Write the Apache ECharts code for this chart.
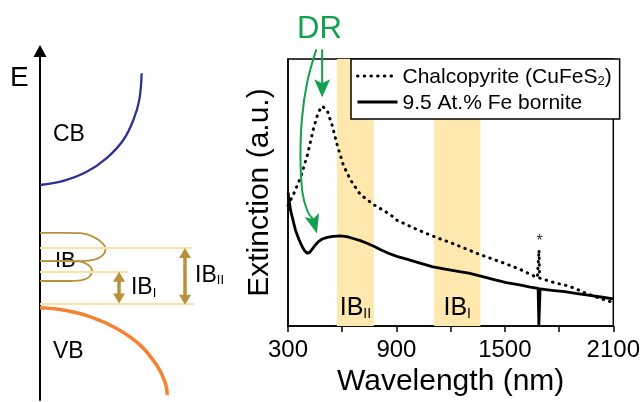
<!DOCTYPE html>
<html><head><meta charset="utf-8">
<script src="https://cdn.jsdelivr.net/npm/echarts@6/dist/echarts.min.js"></script>
<style>html,body{margin:0;padding:0;background:#fff}#c{width:643px;height:402px}</style>
</head><body><div id="c"></div><script>
const FONT = 'Liberation Sans, Arial, Helvetica, sans-serif';
const GREEN = '#12A04C', GOLD = '#B8923A', PALE = '#FCE3A0', BAND = '#FEE8AE';

// ---------- right panel: extinction spectra ----------
const wavelengthTickLabels = [300, 900, 1500, 2100];
const chalcopyriteName = 'Chalcopyrite (CuFeS2)';
const borniteName = '9.5 At.% Fe bornite';
const chalcopyrite = [[300,45.2],[330,49.3],[369,55.5],[407,64],[441,73.9],[468,80.1],[490,82.4],[518,80.5],[545,75],[573,67.6],[606,60.3],[645,54.8],[700,49.3],[771,45.6],[865,41.8],[904,39.6],[1000,36.6],[1069,34.6],[1140,32.7],[1212,30.9],[1290,28.8],[1361,26.8],[1440,24.9],[1510,23.2],[1582,21.3],[1637,19.5],[1680,18.2],[1686,18.6],[1689,28.5],[1692,18.0],[1700,17.4],[1776,16.2],[1831,15.4],[1886,14.2],[1941,12.5],[2013,10.7],[2100,8.8]];
const bornite = [[300,50],[314,43.4],[341,36],[360,32.5],[378,29.8],[392,28.2],[406,27.3],[420,27.6],[433,28.7],[450,30.3],[468,31.6],[490,32.6],[516,33.2],[550,33.6],[590,33.8],[625,33.5],[661,32.8],[700,32.0],[737,31],[775,29.9],[810,28.7],[856,27.3],[902,26.1],[957,25.1],[1030,23.6],[1102,22.2],[1170,21.3],[1233,20.6],[1300,19.8],[1361,18.8],[1430,17.6],[1508,16.3],[1582,15.4],[1640,14.6],[1684,14.1],[1688,0.3],[1691,0.3],[1695,13.9],[1760,13.4],[1831,12.9],[1900,12.2],[1980,11.4],[2040,10.8],[2100,10.2]];
const bandIBII = [571, 775];
const bandIBI = [1108, 1365];
const asteriskPoint = [1692, 31.6];
const drStraightArrow = [[489, 103.6], [489, 85.7]];
const drCurvedArrow = [[457,103.6],[406,91.2],[377,77.6],[369,62.9],[380,50],[408,43],[438,40.1]];
const drCurvedTip = [460, 34.7];

// ---------- left panel: band diagram (schematic k, E units) ----------
const cbCurve = [[0,6.16],[1.37,6.28],[2.75,6.54],[3.92,6.93],[4.90,7.45],[5.49,8.02],[5.84,8.60],[5.98,9.36]];
const vbCurve = [[0,2.645],[1.37,2.58],[2.94,2.39],[4.51,2.05],[5.88,1.58],[6.86,1.00],[7.35,0.52],[7.49,0.14]];
const ibUpperLobe = [[0,4.79],[1.5,4.79],[2.4,4.78],[3.2,4.66],[3.7,4.48],[3.85,4.33],[3.7,4.15],[3.2,4.02],[2.4,3.98],[0,3.98]];
const ibLowerLobe = [[0,3.98],[1.5,3.98],[2.3,3.97],[2.8,3.88],[3.05,3.72],[2.9,3.53],[2.4,3.43],[1.5,3.41],[0,3.41]];
const levelLines = [[4.35, 8.98], [3.68, 5.18], [2.75, 9.06]]; // [E, right end k]
const ibIArrow = [4.65, 3.53, 2.91];   // [k, E top, E bottom]
const ibIIArrow = [8.53, 4.21, 2.87];
const bandLabels = [
  {name:'E', value:[-1.76, 9.23], size:28},
  {name:'CB', value:[0.76, 7.59], size:23},
  {name:'VB', value:[0.76, 1.38], size:23},
  {name:'IB', value:[0.88, 3.98], size:22},
  {name:'{b|IB}{s|I}', value:[5.35, 3.25], size:23},
  {name:'{b|IB}{s|II}', value:[9.12, 3.62], size:23}
];

const subRich = (big, small) => ({
  b:{fontSize:big, lineHeight:big+3, verticalAlign:'bottom', fontFamily:FONT, color:'#000'},
  s:{fontSize:small, lineHeight:10, verticalAlign:'bottom', fontFamily:FONT, color:'#000'}
});

const option = {
  animation:false,
  backgroundColor:'#fff',
  title:{text:'DR', left:297, top:14, padding:0, textStyle:{color:GREEN, fontSize:31, fontWeight:'normal', fontFamily:FONT}},
  legend:{
    data:[chalcopyriteName, borniteName],
    orient:'vertical', left:351, top:59,
    padding:[8,8,5,5], itemGap:5, itemWidth:40, itemHeight:14,
    backgroundColor:'#fff', borderColor:'#000', borderWidth:1.5, borderRadius:0,
    lineStyle:{width:'inherit'},
    itemStyle:{opacity:0, borderWidth:0},
    selectedMode:false,
    formatter: n => n === chalcopyriteName ? '{m|Chalcopyrite (CuFeS}{s|2}{m|)}' : '{m|' + n + '}',
    textStyle:{fontSize:21, color:'#000', fontFamily:FONT,
      rich:{m:{fontSize:21, lineHeight:24, verticalAlign:'bottom', fontFamily:FONT, color:'#000'},
            s:{fontSize:13, lineHeight:10, verticalAlign:'bottom', fontFamily:FONT, color:'#000'}}}
  },
  grid:[
    {left:288, top:59, right:29, bottom:71, show:true, borderColor:'#000', borderWidth:1.5, backgroundColor:'transparent'},
    {left:40, top:51, width:170, height:349}
  ],
  xAxis:[
    {type:'value', gridIndex:0, min:300, max:2100, interval:300,
     name:'Wavelength (nm)', nameLocation:'middle', nameGap:39,
     nameTextStyle:{fontSize:30, color:'#000', fontFamily:FONT},
     axisLine:{lineStyle:{color:'#000', width:1.5}},
     axisTick:{show:true, length:6, lineStyle:{color:'#000', width:1.5}},
     axisLabel:{fontSize:24, color:'#000', fontFamily:FONT, margin:12,
       formatter: v => wavelengthTickLabels.includes(v) ? String(v) : ''},
     splitLine:{show:false}},
    {type:'value', gridIndex:1, min:0, max:10, show:false}
  ],
  yAxis:[
    {type:'value', gridIndex:0, min:0, max:100,
     name:'Extinction (a.u.)', nameLocation:'middle', nameGap:13,
     nameTextStyle:{fontSize:30, color:'#000', fontFamily:FONT},
     axisLine:{lineStyle:{color:'#000', width:1.5}},
     axisTick:{show:false}, axisLabel:{show:false}, splitLine:{show:false}},
    {type:'value', gridIndex:1, min:0, max:10,
     axisLine:{show:true, symbol:['none','triangle'], symbolSize:[13,12], lineStyle:{color:'#000', width:2}},
     axisTick:{show:false}, axisLabel:{show:false}, splitLine:{show:false}}
  ],
  series:[
    {name:chalcopyriteName, type:'line', xAxisIndex:0, yAxisIndex:0, data:chalcopyrite,
     symbol:'none', smooth:false, z:3,
     lineStyle:{color:'#000', width:3, type:[0.5,6.2], cap:'round'},
     itemStyle:{color:'#000'}},
    {name:borniteName, type:'line', xAxisIndex:0, yAxisIndex:0, data:bornite,
     symbol:'none', smooth:false, z:4,
     lineStyle:{color:'#000', width:2.8, join:'round'},
     itemStyle:{color:'#000'},
     markArea:{silent:true, itemStyle:{color:BAND, opacity:1},
       label:{show:true, position:'insideBottom', distance:5},
       data:[
         [{xAxis:bandIBII[0], label:{formatter:'{b|IB}{s|II}', rich:subRich(25,14)}}, {xAxis:bandIBII[1]}],
         [{xAxis:bandIBI[0], label:{formatter:'{b|IB}{s|I}', rich:subRich(25,14)}}, {xAxis:bandIBI[1]}]
       ]}},
    {type:'scatter', xAxisIndex:0, yAxisIndex:0, symbolSize:0, silent:true, clip:false,
     itemStyle:{opacity:1},
     data:[{value:asteriskPoint, name:'*'}],
     label:{show:true, formatter:'*', position:'inside', fontSize:16, color:'#333', opacity:1, fontFamily:FONT}},
    // left panel
    {type:'line', xAxisIndex:1, yAxisIndex:1, data:cbCurve, symbol:'none', smooth:0.4,
     lineStyle:{color:'#2E3192', width:2.3}},
    {type:'line', xAxisIndex:1, yAxisIndex:1, data:vbCurve, symbol:'none', smooth:0.4,
     lineStyle:{color:'#F58233', width:3.5}},
    {type:'line', xAxisIndex:1, yAxisIndex:1, data:ibUpperLobe, symbol:'none', smooth:0.35,
     lineStyle:{color:GOLD, width:1.8}},
    {type:'line', xAxisIndex:1, yAxisIndex:1, data:ibLowerLobe, symbol:'none', smooth:0.35,
     lineStyle:{color:GOLD, width:1.8}},
    {type:'line', xAxisIndex:1, yAxisIndex:1, data:[], symbol:'none', z:1,
     markLine:{silent:true, symbol:['none','none'], label:{show:false},
       lineStyle:{color:PALE, width:2, type:'solid'},
       data: levelLines.map(l => [{coord:[0, l[0]]}, {coord:[l[1], l[0]]}])}},
    {type:'line', xAxisIndex:1, yAxisIndex:1, data:[], symbol:'none',
     markLine:{silent:true, symbol:['triangle','triangle'], symbolSize:[12,10], label:{show:false},
       lineStyle:{color:GOLD, width:3.5, type:'solid'},
       data:[ibIArrow, ibIIArrow].map(a => [{coord:[a[0], a[1]]}, {coord:[a[0], a[2]]}])}},
    {type:'scatter', xAxisIndex:1, yAxisIndex:1, symbolSize:0, silent:true, clip:false,
     itemStyle:{opacity:1},
     data: bandLabels.map(d => ({name:d.name, value:d.value,
       label:{fontSize:d.size, rich:subRich(d.size, 13)}})),
     label:{show:true, position:[0,0], align:'left', verticalAlign:'middle', opacity:1,
       formatter: p => p.name, color:'#000', fontFamily:FONT}}
  ]
};

const chart = echarts.init(document.getElementById('c'));
chart.setOption(option);

// green DR annotation arrows, placed through the grid's own scales
const toPx = p => chart.convertToPixel({gridIndex:0}, p);
function head(tip, from, L, W, n) {
  const dx = tip[0]-from[0], dy = tip[1]-from[1], len = Math.hypot(dx, dy);
  const ux = dx/len, uy = dy/len, nx = -uy, ny = ux;
  const bx = tip[0]-ux*L, by = tip[1]-uy*L;
  return {poly:[[tip[0],tip[1]],[bx+nx*W,by+ny*W],[tip[0]-ux*(L-n),tip[1]-uy*(L-n)],[bx-nx*W,by-ny*W]],
          notch:[tip[0]-ux*(L-n),tip[1]-uy*(L-n)]};
}
const s0 = toPx(drStraightArrow[0]), s1 = toPx(drStraightArrow[1]);
const h1 = head(s1, s0, 18, 8, 4);
const cPts = drCurvedArrow.map(toPx);
const cTip = toPx(drCurvedTip);
const h2 = head(cTip, cPts[cPts.length-1], 19, 7.5, 4);
chart.setOption({graphic:[
  {type:'polyline', z:50, shape:{points:[s0, h1.notch]}, style:{stroke:GREEN, lineWidth:2, fill:null}},
  {type:'polygon', z:50, shape:{points:h1.poly}, style:{fill:GREEN}},
  {type:'polyline', z:50, shape:{points:cPts, smooth:0.4}, style:{stroke:GREEN, lineWidth:2, fill:null}},
  {type:'polygon', z:50, shape:{points:h2.poly}, style:{fill:GREEN}}
]});
</script></body></html>
